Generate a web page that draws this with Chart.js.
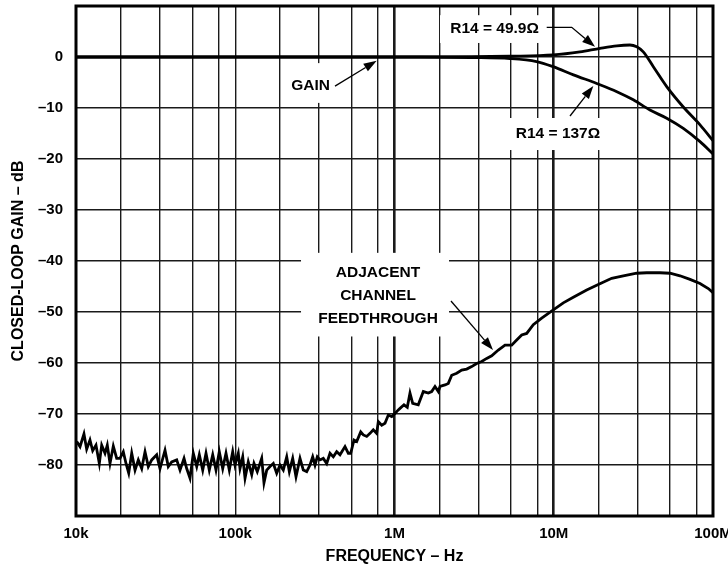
<!DOCTYPE html>
<html>
<head>
<meta charset="utf-8">
<script src="https://cdn.jsdelivr.net/npm/chart.js@4.4.1/dist/chart.umd.min.js"></script>
<style>
  html, body { margin: 0; padding: 0; background: #fff; }
  #caixa { width: 728px; height: 567px; position: relative; }
</style>
</head>
<body>
<div id="caixa"><canvas id="grafico"></canvas></div>
<script>
// eixo X (log) - decadas e rotulos
const decadas = [1e4, 1e5, 1e6, 1e7, 1e8]
const rotulosX = ['10k', '100k', '1M', '10M', '100M']
// linhas de grade intermediarias dentro de cada decada (como no original)
const fatoresGrade = [1.91, 3.36, 5.38, 7.9]

// eixo Y
const ticksY = [10, 0, -10, -20, -30, -40, -50, -60, -70, -80, -90]
const rotulosY = ['', '0', '\u201310', '\u201320', '\u201330', '\u201340', '\u201350', '\u201360', '\u201370', '\u201380', '']

// R14 = 49.9 ohm
const freq499 = [1e4, 1e6, 1.45e6, 3e6, 5.3e6, 9.9e6, 14.6e6, 19.5e6, 24.9e6, 30.1e6, 33.2e6, 36.5e6, 42.2e6, 51.2e6, 65.1e6, 82.9e6, 1e8]
const ganho499 = [0, 0, 0, 0.05, 0.15, 0.4, 1.0, 1.7, 2.2, 2.35, 2.0, 1.0, -1.9, -5.8, -9.8, -13.3, -16.4]

// R14 = 137 ohm
const freq137 = [1e4, 1e6, 1.45e6, 3e6, 5.3e6, 7.8e6, 9.9e6, 13.3e6, 18.6e6, 24.9e6, 31.6e6, 40.2e6, 51.2e6, 65.1e6, 82.9e6, 1e8]
const ganho137 = [0, 0, 0, -0.1, -0.3, -0.9, -1.9, -3.5, -5.2, -6.8, -8.4, -10.4, -12.0, -14.0, -16.6, -19.0]

// feedthrough do canal adjacente
const freqFeed = [
  10100, 10600, 11220, 11670, 12240, 12730, 13350, 14010, 14500, 15210,
  15720, 16350, 17150, 18010, 18890, 19820, 20610, 21430, 22380, 23480,
  24620, 25860, 27130, 28450, 29880, 32120, 33690, 36220, 37980, 39900,
  42890, 45000, 47680, 49560, 51980, 54530, 57280, 59480, 62470, 65520,
  68710, 72200, 75700, 79400, 83420, 87480, 91760, 96380, 99630, 104500,
  107100, 111400, 115200, 120700, 126900, 131100, 137500, 146600, 151500, 157600,
  165300, 173400, 182100, 191000, 200300, 210500, 218600, 229500, 240700, 255000,
  267500, 281000, 294700, 306400, 316800, 327500, 340600, 357200, 375200, 393600,
  412800, 433600, 454800, 488900, 512800, 530900, 556800, 578900, 613500, 637100,
  669200, 702000, 735900, 773000, 791200, 831000, 871500, 914300, 960300, 1007000,
  1056000, 1083000, 1147000, 1203000, 1251000, 1301000, 1410000, 1517000, 1631000, 1712000,
  1796000, 1884000, 1931000, 2075000, 2177000, 2287000, 2458000, 2642000, 2840000, 3052000,
  3281000, 3528000, 3793000, 4077000, 4485000, 4942000, 5444000, 5853000, 6291000, 6763000,
  7439000, 8400000, 9937000, 11480000, 13270000, 16100000, 19040000, 23110000, 27340000, 33180000,
  38350000, 46470000, 53700000, 62060000, 71720000, 82860000, 93430000, 100000000
]
const ganhoFeed = [
  -75.4, -76.4, -73.9, -76.9, -75.1, -77.2, -76.1, -79.7, -76.1, -77.7,
  -76.1, -79.7, -76.3, -78.7, -78.7, -77.4, -79.7, -81.6, -77.7, -81.0,
  -79.0, -80.7, -77.4, -80.3, -79.0, -78.0, -80.7, -77.1, -80.3, -79.4,
  -79.0, -81.0, -78.7, -80.7, -82.6, -77.7, -80.3, -78.0, -81.0, -77.7,
  -81.0, -78.0, -81.0, -77.4, -80.7, -77.7, -81.0, -77.4, -80.0, -77.7,
  -80.7, -78.4, -82.6, -79.4, -81.9, -79.7, -81.3, -78.7, -83.5, -81.0,
  -80.3, -79.7, -81.6, -80.0, -81.0, -78.4, -81.3, -78.7, -82.3, -78.7,
  -81.0, -81.3, -80.0, -78.4, -80.0, -78.4, -79.0, -78.7, -79.7, -77.7,
  -78.4, -77.4, -78.0, -76.4, -77.7, -77.7, -75.1, -75.4, -73.5, -74.1,
  -74.4, -73.8, -73.1, -73.8, -71.5, -72.2, -71.8, -70.2, -70.5, -69.9,
  -69.2, -68.9, -68.2, -68.7, -65.9, -67.9, -68.2, -65.6, -65.9, -65.6,
  -64.6, -65.6, -64.6, -64.3, -64.0, -62.4, -62.0, -61.4, -61.2, -60.7,
  -60.1, -59.7, -59.1, -58.6, -57.45, -56.5, -56.5, -55.5, -54.5, -54.2,
  -52.5, -51.2, -49.6, -48.2, -47.1, -45.7, -44.6, -43.4, -42.9, -42.4,
  -42.3, -42.3, -42.4, -42.9, -43.6, -44.4, -45.4, -46.2
]

function pontos(fs, gs) {
  return fs.map((f, i) => ({ x: f, y: gs[i] }))
}

var valoresGradeX = []
decadas.forEach(d => {
  valoresGradeX.push(d)
  if (d < 1e8) fatoresGrade.forEach(f => valoresGradeX.push(d * f))
})
valoresGradeX.sort((a, b) => a - b)

const familia = '"Liberation Sans", Arial, sans-serif'
const fonteNotas = 'bold 15.5px ' + familia

// anotacoes em unidades do grafico (Hz, dB)
const caixas = [
  [2.02e5, 4.55e5, -1.2, -9.0],
  [1.93e6, 8.81e6, 8.2, 2.75],
  [4.94e6, 2.098e7, -11.96, -18.24],
  [2.588e5, 2.199e6, -38.4, -54.8]
]
const textos = [
  ['GAIN', 2.97e5, -5.6],
  ['R14 = 49.9\u03A9', 4.25e6, 5.6],
  ['R14 = 137\u03A9', 1.063e7, -15.0],
  ['ADJACENT', 7.88e5, -42.25],
  ['CHANNEL', 7.88e5, -46.86],
  ['FEEDTHROUGH', 7.88e5, -51.3]
]
const setas = [
  [[4.23e5, -5.7], [7.73e5, -0.73]],
  [[9.03e6, 5.82], [1.297e7, 5.82], [1.816e7, 2.0]],
  [[1.265e7, -11.57], [1.772e7, -5.69]],
  [[2.263e6, -47.84], [4.155e6, -57.45]]
]

const anotacoes = {
  id: 'anotacoes',
  beforeDatasetsDraw(chart) {
    const ctx = chart.ctx
    const sx = chart.scales.x, sy = chart.scales.y
    ctx.save()
    ctx.fillStyle = '#fff'
    caixas.forEach(c => {
      const x1 = sx.getPixelForValue(c[0]), x2 = sx.getPixelForValue(c[1])
      const y1 = sy.getPixelForValue(c[2]), y2 = sy.getPixelForValue(c[3])
      ctx.fillRect(x1, y1, x2 - x1, y2 - y1)
    })
    ctx.restore()
  },
  afterDatasetsDraw(chart) {
    const ctx = chart.ctx
    const sx = chart.scales.x, sy = chart.scales.y
    const a = chart.chartArea
    ctx.save()
    // moldura
    ctx.strokeStyle = '#000'
    ctx.lineWidth = 3
    ctx.strokeRect(a.left, a.top, a.right - a.left, a.bottom - a.top)

    ctx.fillStyle = '#000'
    ctx.font = fonteNotas
    ctx.textAlign = 'center'
    ctx.textBaseline = 'middle'
    textos.forEach(t => {
      ctx.fillText(t[0], sx.getPixelForValue(t[1]), sy.getPixelForValue(t[2]))
    })

    ctx.lineWidth = 1.3
    setas.forEach(s => {
      const p = s.map(q => [sx.getPixelForValue(q[0]), sy.getPixelForValue(q[1])])
      const ult = p[p.length - 1], pen = p[p.length - 2]
      const ang = Math.atan2(ult[1] - pen[1], ult[0] - pen[0])
      const tam = 13, larg = 4.5
      const bx = ult[0] - tam * Math.cos(ang), by = ult[1] - tam * Math.sin(ang)
      ctx.beginPath()
      ctx.moveTo(p[0][0], p[0][1])
      for (let i = 1; i < p.length - 1; i++) ctx.lineTo(p[i][0], p[i][1])
      ctx.lineTo(bx, by)
      ctx.stroke()
      ctx.beginPath()
      ctx.moveTo(ult[0], ult[1])
      ctx.lineTo(bx + larg * Math.sin(ang), by - larg * Math.cos(ang))
      ctx.lineTo(bx - larg * Math.sin(ang), by + larg * Math.cos(ang))
      ctx.closePath()
      ctx.fill()
    })
    ctx.restore()
  }
}

const estiloLinha = {
  borderColor: '#000',
  borderWidth: 2.8,
  pointRadius: 0,
  fill: false
}

new Chart(document.getElementById('grafico'), {
  type: 'line',
  data: {
    datasets: [
      Object.assign({ label: 'R14 = 49.9', data: pontos(freq499, ganho499), cubicInterpolationMode: 'monotone' }, estiloLinha),
      Object.assign({ label: 'R14 = 137', data: pontos(freq137, ganho137), cubicInterpolationMode: 'monotone' }, estiloLinha),
      Object.assign({ label: 'Feedthrough', data: pontos(freqFeed, ganhoFeed), tension: 0 }, estiloLinha)
    ]
  },
  options: {
    responsive: true,
    maintainAspectRatio: false,
    animation: false,
    devicePixelRatio: 1,
    layout: { padding: { top: 6, right: 15, left: 0, bottom: 0 } },
    plugins: {
      legend: { display: false },
      tooltip: { enabled: false }
    },
    scales: {
      x: {
        type: 'logarithmic',
        min: 1e4,
        max: 1e8,
        afterBuildTicks: escala => {
          escala.ticks = valoresGradeX.map(v => ({ value: v }))
        },
        afterFit: escala => {
          escala.height = 51
          escala.paddingLeft = 0
          escala.paddingRight = 0
        },
        border: { display: false },
        grid: {
          drawTicks: false,
          color: '#1a1a1a',
          lineWidth: c => (c.tick && (c.tick.value === 1e6 || c.tick.value === 1e7)) ? 2.6 : 1.4
        },
        ticks: {
          autoSkip: false,
          maxRotation: 0,
          padding: 9,
          color: '#000',
          font: { family: familia, size: 15, weight: 'bold' },
          callback: function (valor) {
            const i = decadas.indexOf(valor)
            return i >= 0 ? rotulosX[i] : ''
          }
        },
        title: {
          display: true,
          text: 'FREQUENCY \u2013 Hz',
          color: '#000',
          font: { family: familia, size: 16, weight: 'bold' },
          padding: { top: 0, bottom: 1 }
        }
      },
      y: {
        min: -90,
        max: 10,
        afterBuildTicks: escala => {
          escala.ticks = ticksY.map(v => ({ value: v }))
        },
        afterFit: escala => {
          escala.width = 76
          escala.paddingTop = 0
          escala.paddingBottom = 0
        },
        border: { display: false },
        grid: {
          drawTicks: false,
          color: '#1a1a1a',
          lineWidth: 1.4
        },
        ticks: {
          padding: 13,
          color: '#000',
          font: { family: familia, size: 15, weight: 'bold' },
          callback: function (valor) {
            const i = ticksY.indexOf(valor)
            return i >= 0 ? rotulosY[i] : ''
          }
        },
        title: {
          display: true,
          text: 'CLOSED-LOOP GAIN \u2013 dB',
          color: '#000',
          font: { family: familia, size: 16, weight: 'bold' },
          padding: { top: 9, bottom: 0 }
        }
      }
    }
  },
  plugins: [anotacoes]
})
</script>
</body>
</html>
